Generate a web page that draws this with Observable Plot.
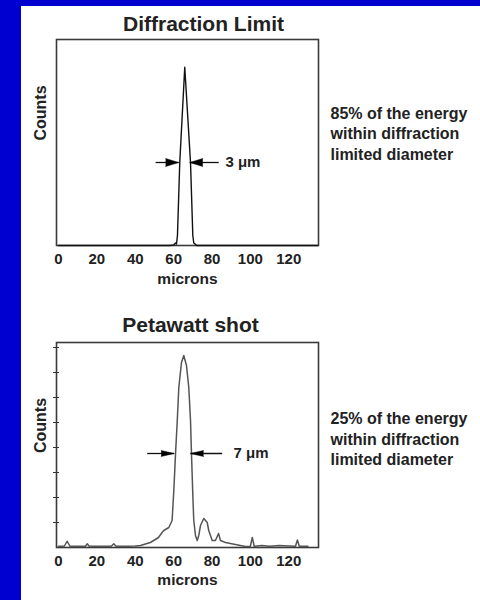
<!DOCTYPE html>
<html><head><meta charset="utf-8">
<script src="https://cdn.jsdelivr.net/npm/d3@7"></script>
<script src="https://cdn.jsdelivr.net/npm/@observablehq/plot@0.6"></script>
<style>
html,body{margin:0;padding:0;width:480px;height:600px;overflow:hidden;background:#0000d0;}
#panel{position:absolute;left:21px;top:6px;right:0;bottom:0;background:#fff;}
.chart{position:absolute;left:0;width:480px;height:300px;}
</style></head><body>
<div id="panel"></div>
<div id="c1" class="chart" style="top:0"></div>
<div id="c2" class="chart" style="top:300px"></div>
<script>
// shared axis
const xTicks = [0, 20, 40, 60, 80, 100, 120];
const xDomain = [-1.04, 135.5];
const xLabel = "microns";
const yLabel = "Counts";

// top panel: diffraction limit
const topTitle = "Diffraction Limit";
const topX = [0, 58, 60, 61.0, 61.5, 62.0, 63.2, 65.8, 68.8, 70.0, 70.5, 71.2, 72, 135];
const topY = [0, 0, 0.02, 0.1, 0.06, 0.4, 3.32, 7.13, 3.32, 0.4, 0.1, 0.06, 0, 0];
const topArrowY = 3.32;
const topArrowLeft = [50.6, 62.6];   // line start, tip
const topArrowRight = [83.5, 68.4];  // line start, tip
const topWidthLabel = "3 μm";
const topWidthLabelX = 87.0;
const topNote = ["85% of the energy", "within diffraction", "limited diameter"];

// bottom panel: petawatt shot
const botTitle = "Petawatt shot";
const botX = [0, 3, 4.5, 6, 10, 14, 15, 16, 22, 27.5, 28.8, 30, 36, 40, 42.7, 47.9, 52.1, 54.0, 54.9, 57.5, 59.2, 60.1, 61.0, 61.9, 62.7, 64.1, 65.3, 66.7, 67.9, 68.8, 69.3, 70.1, 70.5, 71.4, 72.3, 73.1, 74.0, 75.7, 77.5, 78.3, 80.1, 81.8, 83.4, 84.4, 87.0, 92.2, 97.4, 100, 101, 102, 106, 110, 115, 120, 123.5, 124.5, 125.5, 130];
const botY = [0.05, 0.05, 0.25, 0.05, 0.05, 0.05, 0.15, 0.05, 0.05, 0.05, 0.15, 0.05, 0.05, 0.06, 0.08, 0.2, 0.4, 0.6, 0.68, 0.8, 1.08, 2.28, 3.76, 5.08, 6.4, 7.4, 7.68, 7.28, 6.4, 5.08, 3.76, 1.88, 1.08, 0.48, 0.28, 0.48, 0.88, 1.16, 1.0, 0.68, 0.28, 0.28, 0.56, 0.28, 0.2, 0.12, 0.04, 0.05, 0.4, 0.05, 0.08, 0.05, 0.08, 0.06, 0.05, 0.3, 0.05, 0.05];
const botYTicks = [1, 2, 3, 4, 5, 6, 7, 8];
const botArrowY = 3.76;
const botArrowLeft = [46.2, 60.3];
const botArrowRight = [85.3, 68.8];
const botWidthLabel = "7 μm";
const botWidthLabelX = 91.2;
const botNote = ["25% of the energy", "within diffraction", "limited diameter"];

function chart(o) {
  const data = o.xs.map((x, i) => ({x, y: o.ys[i]}));
  const arrows = [
    {x1: o.left[0], x2: o.left[1], y: o.arrowY, rot: 90},
    {x1: o.right[0], x2: o.right[1], y: o.arrowY, rot: -90}
  ];
  const marks = [
    Plot.frame({stroke: "#3a3a3a", strokeWidth: 1.6}),
    Plot.axisX({ticks: xTicks, tickSize: 0, tickPadding: 8, fontSize: 15, fontWeight: "bold", label: null}),
    Plot.line(data, {x: "x", y: "y", stroke: o.stroke, strokeWidth: o.sw}),
    Plot.link(arrows, {x1: "x1", x2: "x2", y1: "y", y2: "y", stroke: "#111", strokeWidth: 1.3}),
    Plot.vector(arrows, {x: "x2", y: "y", rotate: "rot", length: o.headLen, r: o.headR, shape: "spike", anchor: "end", fill: "#000", stroke: "#000", strokeWidth: 0.5}),
    Plot.text([o.label], {x: o.labelX, y: o.arrowY, text: d => d, textAnchor: "start", lineAnchor: "middle", fontSize: 15, fontWeight: "bold"}),
    Plot.text([o.title], {text: d => d, frameAnchor: "top", lineAnchor: "middle", dy: o.titleDy, dx: o.titleDx, fontSize: 21, fontWeight: "bold"}),
    Plot.text([xLabel], {text: d => d, frameAnchor: "bottom", lineAnchor: "middle", dy: o.xlDy, fontSize: 15.5, fontWeight: "bold"}),
    Plot.text([yLabel], {text: d => d, frameAnchor: "left", lineAnchor: "middle", dx: -16, dy: o.ylDy, rotate: -90, fontSize: 16, fontWeight: "bold"}),
    Plot.text([o.note.join("\n")], {text: d => d, frameAnchor: "right", textAnchor: "start", lineAnchor: "middle", dx: 12, dy: o.noteDy, lineHeight: 1.28, fontSize: 16, fontWeight: "bold"})
  ];
  if (o.yTicks) marks.push(Plot.axisY({ticks: o.yTicks, tickSize: 6, dx: 3, tickFormat: () => "", label: null, stroke: "#333"}));
  return Plot.plot({
    width: 480, height: 300,
    marginLeft: 56, marginRight: 162, marginTop: o.mt, marginBottom: o.mb,
    x: {domain: xDomain},
    y: {domain: o.yDomain, axis: null},
    style: {fontFamily: "'Liberation Sans', Arial, sans-serif", background: "transparent", color: "#222", overflow: "visible"},
    marks
  });
}

document.getElementById("c1").append(chart({
  xs: topX, ys: topY, stroke: "#111", sw: 1.4, mt: 39, mb: 55, yDomain: [0, 8.24],
  arrowY: topArrowY, left: topArrowLeft, right: topArrowRight, headLen: 13, headR: 4,
  label: topWidthLabel, labelX: topWidthLabelX, title: topTitle, titleDy: -15, titleDx: 16,
  xlDy: 34, ylDy: -2, note: topNote, noteDy: -10
}));
document.getElementById("c2").append(chart({
  xs: botX, ys: botY, stroke: "#555", sw: 1.5, mt: 42, mb: 53, yDomain: [0, 8.2],
  arrowY: botArrowY, left: botArrowLeft, right: botArrowRight, headLen: 13, headR: 3,
  label: botWidthLabel, labelX: botWidthLabelX, title: botTitle, titleDy: -17, titleDx: 3,
  xlDy: 33, ylDy: 8, note: botNote, noteDy: -7, yTicks: botYTicks
}));
</script>
</body></html>
